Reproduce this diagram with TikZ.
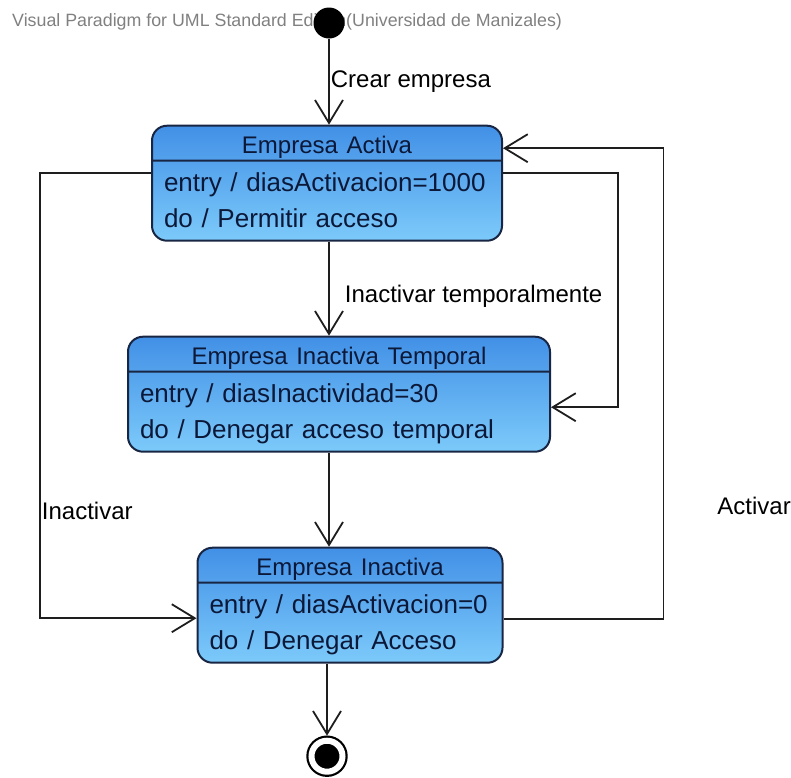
\documentclass[tikz,border=0pt]{standalone}
\usepackage{fontspec}
\setmainfont{Liberation Sans}
\usepackage{tikz}
\usetikzlibrary{arrows.meta,positioning,shapes.multipart}
\definecolor{stateline}{RGB}{24,38,68}
\definecolor{statetop}{RGB}{66,144,230}
\definecolor{statebottom}{RGB}{124,202,250}
\definecolor{statetext}{RGB}{12,24,56}
\definecolor{linkcolor}{RGB}{30,30,30}
\tikzstyle{state box}=[rectangle split,rectangle split parts=2,draw=stateline,line width=2pt,rounded corners=15pt,top color=statetop,bottom color=statebottom,inner xsep=12pt,inner ysep=0pt,align=left,text=statetext,font=\fontsize{26pt}{36pt}\selectfont]
\tikzstyle{initial dot}=[circle,fill=black,minimum size=31pt,inner sep=0pt]
\tikzstyle{final dot}=[circle,fill=black,draw=black,line width=2.2pt,double=white,double distance=6pt,minimum size=31pt,inner sep=0pt,outer sep=5pt]
\tikzstyle{link}=[draw=linkcolor,line width=1.8pt,>={Straight Barb[length=23pt,width=28pt]}]
\tikzstyle{every edge}=[link]
\tikzstyle{trans}=[font=\fontsize{24pt}{28pt}\selectfont,text=black,inner sep=1pt]
\newcommand{\statetitle}[1]{\fontsize{24pt}{20pt}\selectfont\rule[-6.5pt]{0pt}{33pt}\makebox[\linewidth]{#1}}
\newcommand{\statebody}[2]{\rule{0pt}{30pt}#1\\#2\rule[-12pt]{0pt}{12pt}}

\begin{document}
\begin{tikzpicture}[x=1pt,y=-1pt]
  \useasboundingbox (0,0) rectangle (791,777);
  \node[anchor=base west,text=black!50,font=\fontsize{17.8pt}{20pt}\selectfont,inner sep=0pt] (wm) at (12,26)
    {Visual Paradigm for UML Standard Edition(Universidad de Manizales)};

  \node[initial dot] (init) at (329,23) {};
  \node[state box] (active) [below=86pt of init,xshift=-2pt,text width=326pt]
    {\statetitle{Empresa Activa}\nodepart{two}\statebody{entry / diasActivacion=1000}{do / Permitir acceso}};
  \node[state box] (temporal) [below=94pt of active,xshift=12pt,text width=398pt]
    {\statetitle{Empresa Inactiva Temporal}\nodepart{two}\statebody{entry / diasInactividad=30}{do / Denegar acceso temporal}};
  \node[state box] (inactive) [below=94pt of temporal,xshift=11pt,text width=281pt]
    {\statetitle{Empresa Inactiva}\nodepart{two}\statebody{entry / diasActivacion=0}{do / Denegar Acceso}};
  \node[final dot] (end) [below=72pt of inactive,xshift=-23pt] {};

  \path[->] (init) edge node[trans,right] (crear) {Crear empresa} (active.north -| init)
    (active.south -| init) edge node[trans,right,pos=0.58,xshift=14pt] (temporalmente) {Inactivar temporalmente} (temporal.north -| init)
    (temporal.south -| init) edge (inactive.north -| init)
    (inactive.south -| end) edge (end);

  % loops round the sides
  \draw[link,->] ([yshift=10pt]active.east) -- ++(115,0) |- ([yshift=-13pt]temporal.east);
  \draw[link,->] ([yshift=10pt]active.west) -- ++(-111,0) |- node[trans,right,pos=0.38] (inactivar) {Inactivar} ([yshift=-13pt]inactive.west);
  \draw[link,->] ([yshift=-14pt]inactive.east) -- ++(160,0) |- node[trans,right,pos=0.12,xshift=52pt] (activar) {Activar} ([yshift=35pt]active.east);
\end{tikzpicture}
\end{document}
